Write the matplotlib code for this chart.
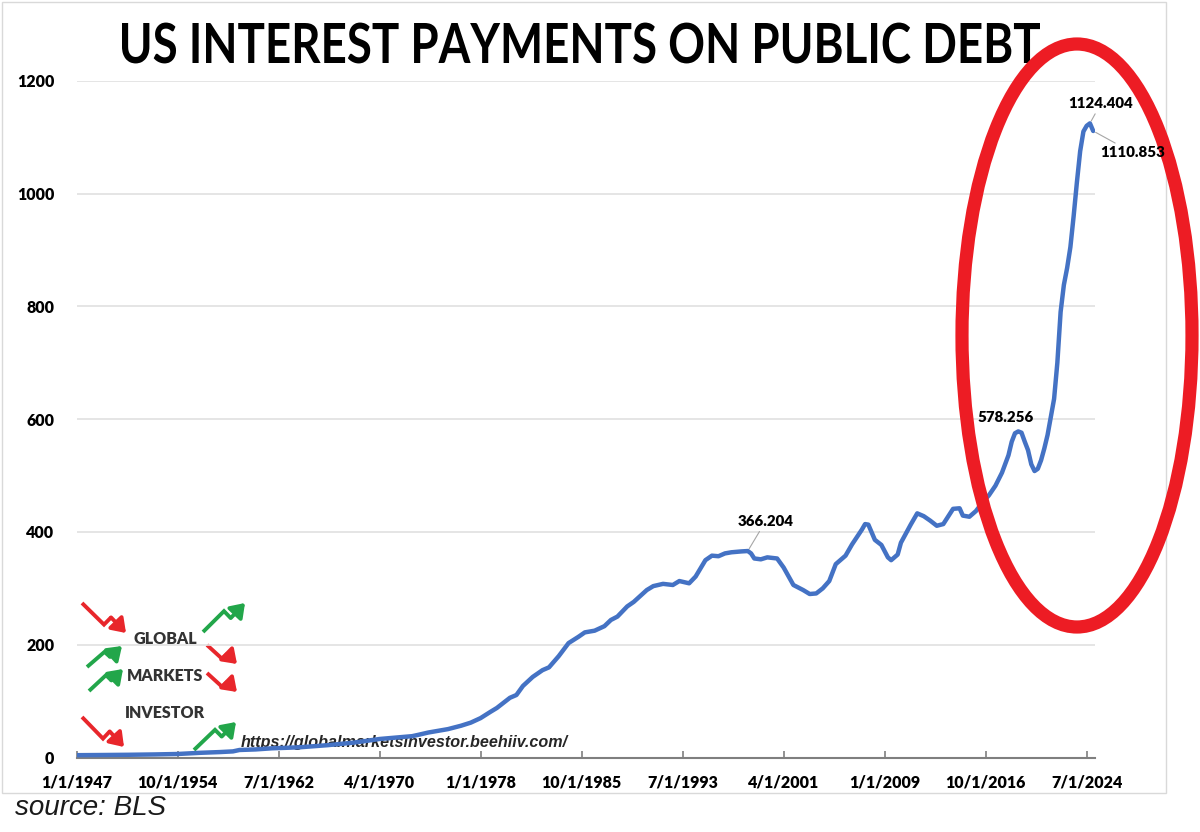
import matplotlib
matplotlib.use("Agg")
import matplotlib.pyplot as plt
from matplotlib.patches import Ellipse, Rectangle, FancyArrowPatch, PathPatch
from matplotlib.textpath import TextPath
from matplotlib.font_manager import FontProperties
from matplotlib.transforms import Affine2D

# quarterly readings (billions, SAAR)
quarters = [
    "1/1/1947", "1/1/1949", "1/1/1951", "1/1/1953", "10/1/1954", "7/1/1956",
    "1/1/1958", "1/1/1959", "7/1/1959", "10/1/1960", "1/1/1962", "4/1/1963",
    "4/1/1964", "4/1/1966", "4/1/1968", "7/1/1969", "4/1/1970", "1/1/1971",
    "10/1/1971", "10/1/1972", "4/1/1973", "1/1/1974", "10/1/1974", "7/1/1975",
    "7/1/1976", "4/1/1977", "1/1/1978", "10/1/1978", "4/1/1979", "10/1/1979",
    "4/1/1980", "10/1/1980", "4/1/1981", "1/1/1982", "10/1/1982", "4/1/1983",
    "1/1/1984", "10/1/1984", "7/1/1985", "1/1/1986", "10/1/1986", "7/1/1987",
    "1/1/1988", "7/1/1988", "4/1/1989", "10/1/1989", "10/1/1990", "4/1/1991",
    "1/1/1992", "10/1/1992", "4/1/1993", "1/1/1994", "7/1/1994", "4/1/1995",
    "10/1/1995", "4/1/1996", "10/1/1996", "4/1/1997", "1/1/1998", "7/1/1998",
    "10/1/1998", "1/1/1999", "7/1/1999", "1/1/2000", "10/1/2000", "4/1/2001",
    "1/1/2002", "10/1/2002", "4/1/2003", "10/1/2003", "4/1/2004", "10/1/2004",
    "4/1/2005", "1/1/2006", "7/1/2006", "4/1/2007", "7/1/2007", "10/1/2007",
    "4/1/2008", "10/1/2008", "4/1/2009", "7/1/2009", "1/1/2010", "4/1/2010",
    "1/1/2011", "7/1/2011", "1/1/2012", "7/1/2012", "1/1/2013", "7/1/2013",
    "1/1/2014", "4/1/2014", "10/1/2014", "1/1/2015", "7/1/2015", "1/1/2016",
    "7/1/2016", "1/1/2017", "7/1/2017", "1/1/2018", "7/1/2018", "10/1/2018",
    "1/1/2019", "4/1/2019", "7/1/2019", "10/1/2019", "1/1/2020", "4/1/2020",
    "7/1/2020", "10/1/2020", "1/1/2021", "4/1/2021", "7/1/2021", "1/1/2022",
    "4/1/2022", "7/1/2022", "10/1/2022", "1/1/2023", "4/1/2023", "7/1/2023",
    "10/1/2023", "1/1/2024", "4/1/2024", "7/1/2024", "10/1/2024", "1/1/2025",
]
interest = [
    4.3, 4.6, 5.0, 5.6, 6.4, 8.5,
    9.8, 11, 13.5, 14.5, 16.5, 17.5,
    18.5, 22, 26.5, 30.5, 33, 34.5,
    36, 38, 40.5, 44.5, 47.5, 50.5,
    56.5, 62, 70, 81, 88, 97,
    106, 111, 127, 143, 155, 160,
    180, 203, 214, 222, 225, 233,
    244, 250, 268, 276, 297, 304,
    308, 306, 313, 309, 321, 350,
    358, 357, 362, 364, 365.5, 366.204,
    362, 353, 351.5, 355, 353, 337,
    306, 297, 290, 291, 300, 313,
    343, 358, 378, 404, 414, 413,
    386, 377, 355, 350, 360, 381,
    413, 433, 428, 420, 411, 414,
    432, 441, 442, 429, 427, 437,
    452, 465, 482, 505, 536, 560,
    575, 578.256, 576, 560, 545, 520,
    508, 512, 527, 548, 572, 636,
    700, 790, 838, 868, 905, 960,
    1020, 1075, 1110, 1120, 1124.404, 1110.853,
]

tick_labels = ["1/1/1947", "10/1/1954", "7/1/1962", "4/1/1970", "1/1/1978",
               "10/1/1985", "7/1/1993", "4/1/2001", "1/1/2009", "10/1/2016",
               "7/1/2024"]
y_ticks = [0, 200, 400, 600, 800, 1000, 1200]

# labelled points and where their text sits (offset in pixels)
label_dates = ["7/1/1998", "4/1/2019", "10/1/2024", "1/1/2025"]
label_offsets = [(18, 30), (-13, 14), (11, 20), (40, -22)]
label_leader = [True, False, True, True]

title = "US INTEREST PAYMENTS ON PUBLIC DEBT"


def q_index(s):
    m, d, y = map(int, s.split("/"))
    return (y - 1947) * 4 + (m - 1) // 3


xs = [q_index(q) for q in quarters]

W, H = 1200, 832
fig = plt.figure(figsize=(W / 100, H / 100), dpi=100)
fig.patch.set_facecolor("white")

lbl_font = ["Lato", "DejaVu Sans"]
HEAVY = "heavy"

# overlay in image pixel coordinates (y down), sits under the chart
ov = fig.add_axes([0, 0, 1, 1], zorder=0)
ov.set_xlim(0, W)
ov.set_ylim(H, 0)
ov.axis("off")

ax = fig.add_axes([76.5 / W, 1 - 757.6 / H, (1094.5 - 76.5) / W, (757.6 - 80.7) / H],
                  zorder=1)
ax.patch.set_alpha(0)
ax.plot(xs, interest, color="#4472C4", lw=3.2, solid_capstyle="round",
        solid_joinstyle="round", zorder=3)
ax.set_xlim(0, 312.4)
ax.set_ylim(0, 1200)
ax.set_yticks(y_ticks)
ax.set_yticklabels([str(v) for v in y_ticks], fontsize=11.5, fontweight=HEAVY,
                   family=lbl_font)
ax.set_xticks([q_index(t) for t in tick_labels])
ax.set_xticklabels(tick_labels, fontsize=11.5, fontweight=HEAVY, family=lbl_font)
ax.tick_params(axis="y", length=0, pad=16)
ax.tick_params(axis="x", direction="in", length=5, width=1.2, color="#7f7f7f", pad=12)
ax.grid(axis="y", color="#e0e0e0", lw=1.2)
ax.set_axisbelow(True)
for side in ["top", "right", "left"]:
    ax.spines[side].set_visible(False)
ax.spines["bottom"].set_color("#7f7f7f")
ax.spines["bottom"].set_linewidth(1.5)

# red ellipse drawn over the line
ax.add_patch(Ellipse((1077, 335.5), 230, 583, fill=False, ec="#ED1C24", lw=9.5,
                     transform=ov.transData, clip_on=False, zorder=4))

for d, off, lead in zip(label_dates, label_offsets, label_leader):
    i = quarters.index(d)
    props = dict(arrowstyle="-", color="#a6a6a6", lw=0.8, shrinkA=1, shrinkB=2) if lead else None
    ax.annotate(f"{interest[i]:.3f}", xy=(xs[i], interest[i]), xytext=off,
                textcoords="offset pixels", ha="center", va="center",
                fontsize=10.8, fontweight=HEAVY, family=lbl_font,
                arrowprops=props, zorder=6, annotation_clip=False)

ov.add_patch(Rectangle((2, 2), 1164, 791, fill=False, ec="#d9d9d9", lw=1))

# condensed bold title: squeeze a text path into the reference box
title_fp = FontProperties(family="Lato", weight="bold")
tp = TextPath((0, 0), title, size=100, prop=title_fp)
bb = tp.get_extents()
cap = TextPath((0, 0), "U", size=100, prop=title_fp).get_extents().y1
tx0, tx1, t_top, t_base = 122, 1040, 23, 63
tr = Affine2D().translate(-bb.x0, 0).scale((tx1 - tx0) / bb.width, -(t_base - t_top) / cap) \
    .translate(tx0, t_base)
ov.add_patch(PathPatch(tr.transform_path(tp), fc="black", ec="none"))

RED = "#E8262B"
GREEN = "#22A64A"


def zigzag(x0, y0, x1, y1, color):
    dx, dy = x1 - x0, y1 - y0
    a = (x0 + 0.5 * dx, y0 + 0.72 * dy)
    b = (x0 + 0.66 * dx, y0 + 0.48 * dy)
    ov.plot([x0, a[0], b[0]], [y0, a[1], b[1]], color=color, lw=2.8,
            solid_joinstyle="miter", solid_capstyle="butt")
    ov.add_patch(FancyArrowPatch(b, (x1, y1), arrowstyle="-|>,head_length=5,head_width=3.5",
                                 color=color, lw=2.8, shrinkA=0, shrinkB=0,
                                 mutation_scale=1.6))


for s in [(82, 603, 126, 633), (207, 645, 237, 664), (207, 673, 237, 692),
          (82, 717, 124, 747)]:
    zigzag(*s, RED)
for s in [(203, 632, 245, 603), (87, 667, 122, 646), (89, 691, 123, 669),
          (194, 750, 236, 722)]:
    zigzag(*s, GREEN)

for txt, y in [("GLOBAL", 639), ("MARKETS", 676), ("INVESTOR", 713)]:
    ov.text(165, y, txt, ha="center", va="center", fontsize=11.5, fontweight=HEAVY,
            family=lbl_font, color="#333333")

ov.text(241, 743, "https://globalmarketsinvestor.beehiiv.com/", ha="left", va="center",
        fontsize=11.6, fontweight="bold", style="italic", family="Liberation Sans",
        color="#262626", zorder=2)

ov.text(15, 808, "source: BLS", ha="left", va="center", fontsize=20, style="italic",
        family="Liberation Sans", color="#1a1a1a")

fig.savefig("out.png", dpi=100)
